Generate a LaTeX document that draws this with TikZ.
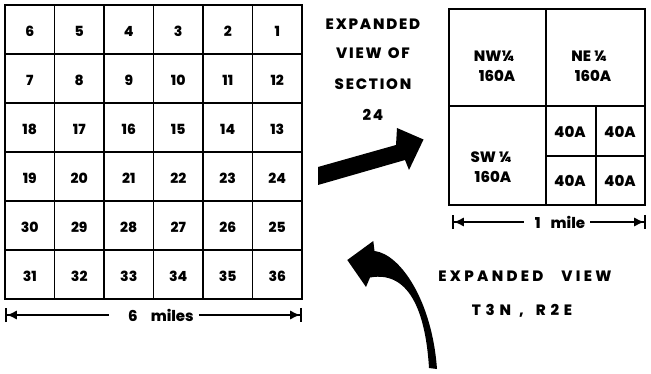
\documentclass[tikz,border=0pt]{standalone}
\usepackage{fontspec}
\setmainfont{Poppins}[BoldFont={Poppins ExtraBold}]
\newfontfamily\spacedfont{Poppins}[LetterSpace=12,BoldFont={Poppins ExtraBold}]
\newfontfamily\widefont{Poppins}[LetterSpace=22,BoldFont={Poppins ExtraBold}]
\newfontfamily\widerfont{Poppins}[LetterSpace=32,BoldFont={Poppins ExtraBold}]
\usetikzlibrary{arrows.meta}
\tikzset{
  outerline/.style={line width=2pt, line join=miter},
  innerline/.style={line width=1.3pt},
  num/.style={font=\bfseries\fontsize{14}{14}\selectfont, inner sep=0pt},
  boxlbl/.style={font=\bfseries\fontsize{15}{15}\selectfont, inner sep=0pt},
  caption/.style={font=\spacedfont\bfseries\fontsize{15}{15}\selectfont, inner sep=0pt},
  widecaption/.style={font=\widefont\bfseries\fontsize{15}{15}\selectfont, inner sep=0pt},
  widercaption/.style={font=\widerfont\bfseries\fontsize{15}{15}\selectfont, inner sep=0pt},
  dimlbl/.style={font=\bfseries\fontsize{15}{15}\selectfont, inner sep=0pt},
  dimline/.style={line width=1.3pt},
  dimstart/.style={dimline, {Bar[width=14pt,line width=1.8pt]Latex[length=10pt,width=9pt]}-},
  dimend/.style={dimline, -{Latex[length=10pt,width=9pt]Bar[width=14pt,line width=1.8pt]}},
}
\begin{document}
\begin{tikzpicture}[x=1pt,y=-1pt]
\fill[white] (0,0) rectangle (651,374);
\useasboundingbox (0,0) rectangle (651,374);

% township grid
\foreach \i in {1,...,5} \draw[innerline] ({5+49.5*\i},5) -- ({5+49.5*\i},299);
\foreach \j in {1,...,5} \draw[innerline] (5,{5+49*\j}) -- (302,{5+49*\j});
\draw[outerline] (5,5) rectangle (302,299);
\foreach \n [count=\k from 0] in {6,5,4,3,2,1,7,8,9,10,11,12,18,17,16,15,14,13,19,20,21,22,23,24,30,29,28,27,26,25,31,32,33,34,35,36} {
  \pgfmathtruncatemacro{\r}{\k/6}
  \pgfmathtruncatemacro{\c}{\k-6*\r}
  \node[num] (s\n) at ({5+49.5*(\c+0.5)},{5+49*(\r+0.5)+1.5}) {\n};
}

% 6 miles dimension
\node[dimlbl] (six) at (161,315) {6\hspace{13pt}miles};
\coordinate (sixl) at (5,315);
\coordinate (sixr) at (302,315);
\draw[dimstart] (sixl) -- ([xshift=-19pt]six.west);
\draw[dimend] ([xshift=5pt]six.east) -- (sixr);

% section box
\draw[innerline] (546,9) -- (546,205);
\draw[innerline] (449,106) -- (645,106);
\draw[innerline] (596,106) -- (596,205);
\draw[innerline] (546,156) -- (645,156);
\draw[outerline] (449,9) rectangle (645,205);
\node[boxlbl] (nw) at (494,56) {NW¼};
\node[boxlbl] (nwa) at (497,76) {160A};
\node[boxlbl] (ne) at (589,56) {NE ¼};
\node[boxlbl] (nea) at (593,76) {160A};
\node[boxlbl] (sw) at (491,157) {SW ¼};
\node[boxlbl] (swa) at (493,177) {160A};
\node[boxlbl] (a1) at (570,132) {40A};
\node[boxlbl] (a2) at (620,132) {40A};
\node[boxlbl] (a3) at (570,181) {40A};
\node[boxlbl] (a4) at (620,181) {40A};

% 1 mile dimension
\node[dimlbl] (one) at (560,222) {1\hspace{10pt}mile};
\coordinate (onel) at (452,222);
\coordinate (oner) at (646,222);
\draw[dimstart] (onel) -- ([xshift=-11pt]one.west);
\draw[dimend] ([xshift=5pt]one.east) -- (oner);

% captions
\node[caption] (c1) at (373,24) {EXPANDED};
\node[caption] (c2) at (373,53) {VIEW\hspace{6pt}OF};
\node[caption] (c3) at (373,84) {SECTION};
\node[caption] (c4) at (373,115) {24};
\node[widecaption] (c5) at (525,276) {EXPANDED\hspace{18pt}VIEW};
\node[widercaption] (c6) at (522,311) {T3N\hspace{8pt},\hspace{12pt}R2E};

% straight arrow
\fill (318,167) -- (396,145) -- (397,128) -- (423.5,139.5) -- (409,170) -- (405,160) -- (318,185) -- cycle;

% curved arrow
\fill (347.3,260) -- (373.3,241) -- (374.5,251)
  .. controls (400,254) and (432,300) .. (437,369)
  -- (429,368)
  .. controls (426,318) and (412,270) .. (370,277.5)
  -- (366,287) -- cycle;
\end{tikzpicture}
\end{document}
